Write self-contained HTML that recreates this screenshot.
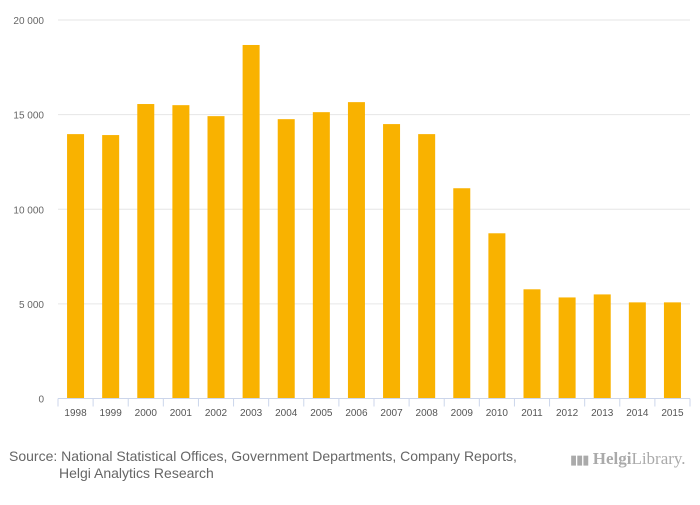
<!DOCTYPE html>
<html><head><meta charset="utf-8"><style>
body{margin:0;background:#fff;font-family:"Liberation Sans",sans-serif;}
#wrap{position:relative;width:700px;height:500px;background:#fff;}
</style></head><body>
<div id="wrap">
<svg id="chart" width="700" height="500"></svg>
</div>
<script>
const categories=["1998","1999","2000","2001","2002","2003","2004","2005","2006","2007","2008","2009","2010","2011","2012","2013","2014","2015"];
const values=[13970,13920,15560,15500,14920,18680,14760,15130,15660,14500,13970,11110,8730,5770,5340,5500,5080,5080];
const yTicks=[0,5000,10000,15000,20000];
const yTickLabels=["0","5 000","10 000","15 000","20 000"];
const NS="http://www.w3.org/2000/svg";
const svg=document.getElementById('chart');
const x0=58,x1=690,y0=398.5,yTop=20,yMax=20000;
const band=(x1-x0)/categories.length;
function yScale(v){return y0-(v/yMax)*(y0-yTop);}
function xCenter(i){return x0+band*(i+0.5);}
function mk(t,a){const e=document.createElementNS(NS,t);for(const k in a)e.setAttribute(k,a[k]);svg.appendChild(e);return e;}
yTicks.forEach((t,i)=>{
  if(t>0){const g=mk('line',{x1:58,x2:690,y1:yScale(t),y2:yScale(t),stroke:'#e6e6e6','stroke-width':1});
  
  }
  const l=mk('text',{x:44,y:yScale(t)+4,'text-anchor':'end','font-size':10,fill:'#666','font-family':'Liberation Sans, sans-serif'});
  l.textContent=yTickLabels[i];
  
  
});
categories.forEach((c,i)=>{
  const w=17;
  const b=mk('rect',{x:xCenter(i)-w/2,y:yScale(values[i]),width:w,height:y0-yScale(values[i]),fill:'#f9b200'});
  
  
  const l=mk('text',{x:xCenter(i),y:416,'text-anchor':'middle','font-size':10,fill:'#555','font-family':'Liberation Sans, sans-serif'});
  l.textContent=c;
  
  
});
for(let i=0;i<=categories.length;i++){
  const t=mk('line',{x1:x0+band*i,x2:x0+band*i,y1:y0,y2:y0+8,stroke:'#ccd6eb','stroke-width':1});
  
  
}
const ax=mk('line',{x1:x0,x2:x1,y1:y0,y2:y0,stroke:'#ccd6eb','stroke-width':1});


</script>
<div style="position:absolute;left:9px;top:448px;font-size:14px;color:#666;line-height:17px;">Source: National Statistical Offices, Government Departments, Company Reports,<br><span style="padding-left:50px">Helgi Analytics Research</span></div>
<div style="position:absolute;left:570px;top:449px;font-size:17px;color:#aaa;font-family:'Liberation Serif',serif;"><span style="font-size:13px;letter-spacing:-1px">▮▮▮</span> <b>Helgi</b>Library.</div>
</body></html>
